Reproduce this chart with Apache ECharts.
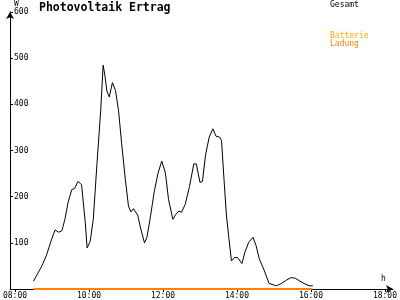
<!DOCTYPE html>
<html><head><meta charset="utf-8">
<script src="https://cdn.jsdelivr.net/npm/echarts@6/dist/echarts.min.js"></script>
<style>html,body{margin:0;padding:0;background:#fff}#c{width:400px;height:300px}</style>
</head><body><div id="c"></div>
<script>
var times = ["08:30","08:44","08:51","09:00","09:05","09:11","09:16","09:21","09:26","09:32","09:37","09:42","09:48","09:54","09:57","10:02","10:07","10:13","10:19","10:23","10:26","10:29","10:33","10:38","10:43","10:48","10:53","10:59","11:04","11:08","11:12","11:19","11:24","11:30","11:34","11:39","11:46","11:52","11:58","12:04","12:09","12:16","12:21","12:26","12:30","12:36","12:43","12:50","12:54","13:00","13:04","13:09","13:15","13:21","13:26","13:32","13:35","13:39","13:43","13:47","13:51","13:56","14:01","14:08","14:13","14:19","14:26","14:31","14:36","14:44","14:52","14:59","15:04","15:12","15:20","15:28","15:35","15:42","15:49","15:57","16:03"];
var gesamt = [17,51,73,110,128,123,126,151,187,215,218,233,226,144,89,103,151,272,386,485,461,429,416,447,430,386,315,237,180,167,174,160,130,100,112,151,212,251,277,251,194,151,162,169,166,183,222,271,271,231,233,290,329,347,331,329,321,237,158,109,61,68,68,55,80,101,112,94,66,41,12,9,7,12,19,25,23,17,12,7,7];
var ladungTimes = ["08:30","16:02"];
var ladung = [0,0];
var xTicks = ["08:00","10:00","12:00","14:00","16:00","18:00"];
var yTicks = [100,200,300,400,500,600];

function toMin(s){var p=s.split(":");return +p[0]*60+ +p[1];}
function fmt(m){var h=Math.floor(m/60),mm=m%60;return (h<10?"0":"")+h+":"+(mm<10?"0":"")+mm;}
var font = "DejaVu Sans Mono";
var chart = echarts.init(document.getElementById('c'), null, {renderer:'canvas'});
chart.setOption({
  animation:false,
  backgroundColor:'#fff',
  grid:{left:10,right:2,top:10,bottom:9,containLabel:false},
  xAxis:{type:'value',min:472,max:1093,
    name:'h',nameLocation:'end',nameGap:-12,
    nameTextStyle:{fontFamily:font,fontSize:8,color:'#000',verticalAlign:'bottom',padding:[0,0,6,0]},
    axisLine:{show:true,onZero:false,lineStyle:{color:'#000',width:1},symbol:['none','arrow'],symbolSize:[6,7]},
    axisTick:{show:true,inside:false,length:3,lineStyle:{color:'#000'},customValues:xTicks.map(toMin)},
    axisLabel:{show:true,customValues:xTicks.map(toMin),formatter:function(v){return fmt(v);},fontFamily:font,fontSize:8,color:'#000',margin:3},
    splitLine:{show:false}},
  yAxis:{type:'value',min:0,max:600,interval:100,
    name:'W',nameLocation:'end',nameGap:4,
    nameTextStyle:{fontFamily:font,fontSize:8,color:'#000',align:'left',padding:[0,0,0,4]},
    axisLine:{show:true,onZero:false,lineStyle:{color:'#000',width:1},symbol:['none','arrow'],symbolSize:[6,7]},
    axisTick:{show:true,inside:true,length:3,lineStyle:{color:'#000'}},
    axisLabel:{show:true,inside:true,fontFamily:font,fontSize:8,color:'#000',margin:4,
      formatter:function(v){return yTicks.indexOf(v)>=0?String(v):'';}},
    splitLine:{show:false}},
  title:{text:'Photovoltaik Ertrag',left:39,top:2,padding:0,textStyle:{fontFamily:font,fontWeight:'bold',fontSize:11.5,color:'#000'}},
  graphic:[
    {type:'text',left:330,top:1,style:{text:'Gesamt',font:'8px "DejaVu Sans Mono"',fill:'#000'}},
    {type:'text',left:330,top:32,style:{text:'Batterie',font:'8px "DejaVu Sans Mono"',fill:'#ffaa00'}},
    {type:'text',left:330,top:40,style:{text:'Ladung',font:'8px "DejaVu Sans Mono"',fill:'#ff8000'}}
  ],
  series:[
    {name:'Batterie Ladung',type:'line',showSymbol:false,lineStyle:{color:'#ff8000',width:2},
      data:ladungTimes.map(function(t,i){return [toMin(t),ladung[i]];}),z:3},
    {name:'Gesamt',type:'line',showSymbol:false,lineStyle:{color:'#000',width:1},
      data:times.map(function(t,i){return [toMin(t),gesamt[i]];}),z:4}
  ]
});
</script></body></html>
